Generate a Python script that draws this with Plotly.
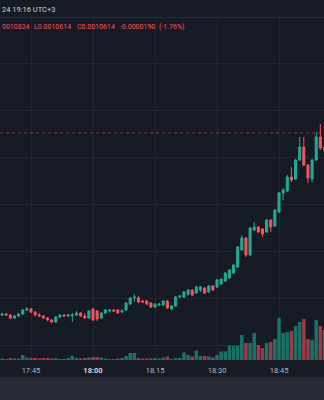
import pandas as pd
import plotly.graph_objects as go

# 1-minute bars, 17:38 .. 18:56
times = pd.date_range("2024-05-20 17:38", periods=79, freq="1min")

open_ = [0.0009886, 0.0009890, 0.0009886, 0.0009874, 0.0009882, 0.0009890, 0.0009906,
         0.0009910, 0.0009898, 0.0009886, 0.0009882, 0.0009874, 0.0009866, 0.0009858,
         0.0009878, 0.0009886, 0.0009882, 0.0009882, 0.0009886, 0.0009894, 0.0009882,
         0.0009874, 0.0009910, 0.0009902, 0.0009874, 0.0009894, 0.0009902, 0.0009906,
         0.0009906, 0.0009898,
         0.0009906, 0.0009930, 0.0009954, 0.0009954, 0.0009942, 0.0009942, 0.0009934,
         0.0009918, 0.0009926,
         0.0009926, 0.0009942, 0.0009910, 0.0009922, 0.0009958, 0.0009958, 0.0009970,
         0.0009986, 0.0009974, 0.0009986, 0.0009994, 0.0009978, 0.0010002, 0.0009998,
         0.0010010, 0.0010022, 0.0010034, 0.0010054, 0.0010078, 0.0010146, 0.0010194,
         0.0010126, 0.0010226, 0.0010238, 0.0010230, 0.0010218, 0.0010266, 0.0010242,
         0.0010298, 0.0010374, 0.0010382, 0.0010438, 0.0010430, 0.0010506, 0.0010558,
         0.0010486, 0.0010430, 0.0010506, 0.0010598, 0.0010546]

high = [0.0009894, 0.0009894, 0.0009890, 0.0009886, 0.0009894, 0.0009910, 0.0009918,
        0.0009914, 0.0009902, 0.0009894, 0.0009886, 0.0009878, 0.0009870, 0.0009882,
        0.0009890, 0.0009890, 0.0009890, 0.0009894, 0.0009902, 0.0009898, 0.0009894,
        0.0009906, 0.0009914, 0.0009906, 0.0009898, 0.0009910, 0.0009910, 0.0009910,
        0.0009910, 0.0009910,
        0.0009938, 0.0009958, 0.0009970, 0.0009962, 0.0009946, 0.0009946, 0.0009938,
        0.0009934, 0.0009934,
        0.0009946, 0.0009946, 0.0009926, 0.0009962, 0.0009966, 0.0009982, 0.0009990,
        0.0009990, 0.0010002, 0.0010002, 0.0009998, 0.0010006, 0.0010006, 0.0010030,
        0.0010034, 0.0010058, 0.0010070, 0.0010090, 0.0010162, 0.0010206, 0.0010198,
        0.0010238, 0.0010258, 0.0010242, 0.0010234, 0.0010270, 0.0010270, 0.0010310,
        0.0010378, 0.0010394, 0.0010446, 0.0010478, 0.0010510, 0.0010598, 0.0010598,
        0.0010490, 0.0010510, 0.0010618, 0.0010650, 0.0010566]

low = [0.0009882, 0.0009882, 0.0009870, 0.0009870, 0.0009878, 0.0009886, 0.0009902,
       0.0009894, 0.0009882, 0.0009878, 0.0009870, 0.0009862, 0.0009854, 0.0009854,
       0.0009874, 0.0009878, 0.0009878, 0.0009858, 0.0009882, 0.0009878, 0.0009870,
       0.0009870, 0.0009862, 0.0009862, 0.0009870, 0.0009890, 0.0009898, 0.0009898,
       0.0009890, 0.0009894,
       0.0009902, 0.0009926, 0.0009938, 0.0009934, 0.0009934, 0.0009926, 0.0009914,
       0.0009914, 0.0009922,
       0.0009922, 0.0009910, 0.0009906, 0.0009918, 0.0009954, 0.0009954, 0.0009962,
       0.0009962, 0.0009970, 0.0009978, 0.0009970, 0.0009974, 0.0009982, 0.0009994,
       0.0010006, 0.0010018, 0.0010030, 0.0010050, 0.0010074, 0.0010142, 0.0010118,
       0.0010122, 0.0010222, 0.0010214, 0.0010198, 0.0010214, 0.0010218, 0.0010238,
       0.0010294, 0.0010346, 0.0010378, 0.0010418, 0.0010426, 0.0010502, 0.0010482,
       0.0010414, 0.0010418, 0.0010502, 0.0010546, 0.0010542]

close = [0.0009890, 0.0009886, 0.0009874, 0.0009882, 0.0009890, 0.0009906, 0.0009910,
         0.0009898, 0.0009886, 0.0009882, 0.0009874, 0.0009866, 0.0009858, 0.0009878,
         0.0009886, 0.0009882, 0.0009886, 0.0009886, 0.0009894, 0.0009882, 0.0009874,
         0.0009902, 0.0009866, 0.0009870, 0.0009894, 0.0009906, 0.0009906, 0.0009902,
         0.0009894, 0.0009902,
         0.0009934, 0.0009954, 0.0009958, 0.0009938, 0.0009938, 0.0009930, 0.0009918,
         0.0009930, 0.0009930,
         0.0009942, 0.0009914, 0.0009922, 0.0009958, 0.0009962, 0.0009978, 0.0009986,
         0.0009966, 0.0009998, 0.0009998, 0.0009974, 0.0010002, 0.0009986, 0.0010026,
         0.0010030, 0.0010054, 0.0010066, 0.0010086, 0.0010158, 0.0010194, 0.0010126,
         0.0010234, 0.0010238, 0.0010218, 0.0010210, 0.0010266, 0.0010238, 0.0010306,
         0.0010374, 0.0010386, 0.0010438, 0.0010426, 0.0010506, 0.0010558, 0.0010486,
         0.0010434, 0.0010506, 0.0010598, 0.0010554, 0.0010558]

# volume, thousands
volume = [1.5, 1, 2, 1.5, 1.5, 5, 2.5,
          2, 2, 1.5, 2, 2, 1.5, 2, 1, 1, 2, 4, 2, 1.5, 2,
          2.5, 3, 3, 2.5, 1.5, 1, 1, 1.5, 2,
          4, 7, 7, 2, 1.5, 1.5, 1.5, 2, 1.5,
          2.5, 3.5, 1, 2, 2, 7.5, 5, 3.5, 9.5, 4, 4, 3.5, 2.5, 5, 8.5, 8.5,
          14.5, 14.5, 14.5, 25, 17, 17, 27, 15, 12, 17, 18, 21, 42, 27, 28, 29,
          34, 38, 41, 21, 20, 40, 34, 30]

last_price = 0.0010614
tick_times = ["2024-05-20 17:45", "2024-05-20 18:00", "2024-05-20 18:15",
              "2024-05-20 18:30", "2024-05-20 18:45"]
tick_text = ["17:45", "<span style='color:#d1d4dc'><b>18:00</b></span>", "18:15", "18:30", "18:45"]
header_text = "24 19:16 UTC+3"
legend_parts = ["0010824", "L0.0010614", "C0.0010614", "-0.0000190", "(-1.76%)"]

UP = "#22ab94"
DOWN = "#f7525f"
BG = "#161a25"
GRID = "#222631"

vol_colors = ["rgba(34,171,148,0.6)" if c >= o else "rgba(247,82,95,0.6)"
              for o, c in zip(open_, close)]

fig = go.Figure()
fig.add_trace(go.Bar(x=times, y=volume, marker_color=vol_colors, marker_line_width=0,
                     yaxis="y2", hoverinfo="skip", showlegend=False))
fig.add_trace(go.Candlestick(
    x=times, open=open_, high=high, low=low, close=close,
    increasing=dict(line=dict(color=UP, width=1), fillcolor=UP),
    decreasing=dict(line=dict(color=DOWN, width=1), fillcolor=DOWN),
    whiskerwidth=0, showlegend=False, hoverinfo="skip"))

H = 342.0  # plot height px
def py(pix):  # figure pixel row -> paper y
    return (360 - pix) / H

shapes = [
    dict(type="line", xref="paper", yref="y", x0=0, x1=1, y0=last_price, y1=last_price,
         line=dict(color="rgba(247,82,95,0.35)", width=1.5, dash="dot")),
    dict(type="line", xref="paper", yref="paper", x0=0, x1=1, y0=py(17.5), y1=py(17.5),
         line=dict(color="#2a2e39", width=1)),
    dict(type="rect", xref="paper", yref="paper", x0=0, x1=1, y0=py(400), y1=py(377),
         fillcolor="#262a35", line=dict(width=0), layer="below"),
]

annotations = [dict(text=header_text, xref="paper", yref="paper", x=0, y=py(9.5),
                    xanchor="left", yanchor="middle", showarrow=False,
                    font=dict(size=7.5, color="#d1d4dc", family="Roboto"))]
legend_x = [0, 31.5, 75, 118, 157]
for t, lx in zip(legend_parts, legend_x):
    annotations.append(dict(text=t, xref="paper", yref="paper", x=lx / 324, y=py(27),
                            xanchor="left", yanchor="middle", showarrow=False,
                            font=dict(size=7, color=DOWN, family="Roboto")))

fig.update_layout(
    width=324, height=400, margin=dict(l=0, r=0, t=18, b=40),
    paper_bgcolor=BG, plot_bgcolor=BG, showlegend=False, bargap=0.15,
    hovermode=False, shapes=shapes, annotations=annotations,
    xaxis=dict(type="date", range=["2024-05-20 17:37:30", "2024-05-20 18:55:53"],
               rangeslider=dict(visible=False), showgrid=True, gridcolor=GRID,
               gridwidth=1, tickvals=tick_times, ticktext=tick_text, ticks="",
               tickfont=dict(size=7.5, color="#b2b5be", family="Roboto"),
               zeroline=False, showline=False, ticklabelstandoff=4),
    yaxis=dict(range=[0.0009706, 0.0011074], tick0=0.0009766, dtick=0.0000188,
               showticklabels=False, showgrid=True, gridcolor=GRID, zeroline=False,
               showline=False, ticks=""),
    yaxis2=dict(range=[0, 342], overlaying="y", visible=False, showgrid=False),
)

fig.write_html("out.html")
